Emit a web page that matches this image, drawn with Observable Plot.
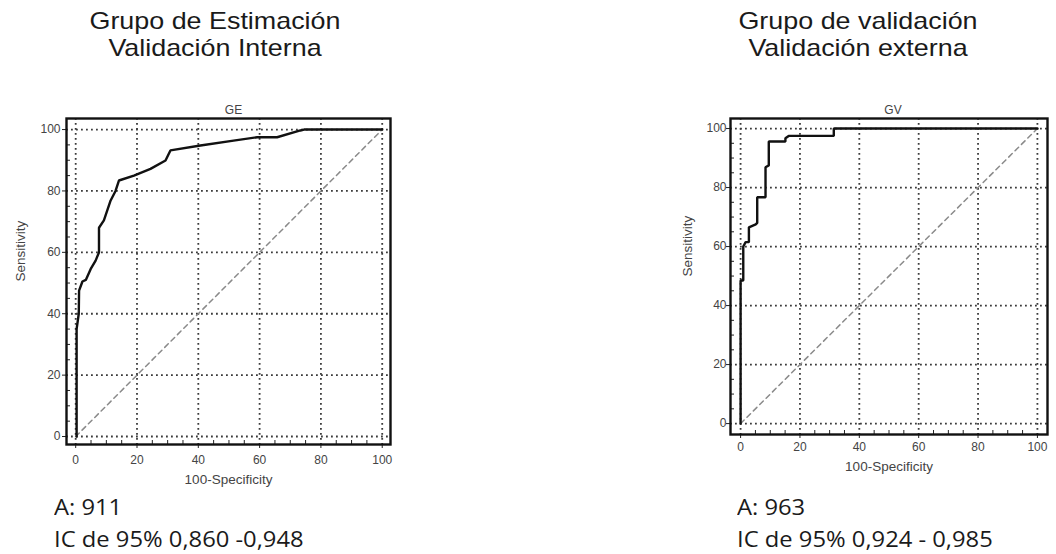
<!DOCTYPE html>
<html>
<head>
<meta charset="utf-8">
<script src="https://cdn.jsdelivr.net/npm/d3@7"></script>
<script src="https://cdn.jsdelivr.net/npm/@observablehq/plot@0.6"></script>
<style>
  html, body { margin: 0; padding: 0; background: #fff; }
  #page { position: relative; width: 1056px; height: 554px; overflow: hidden; background: #fff; }
  .title { position: absolute; font-family: "Liberation Sans", Arial, sans-serif; font-size: 24px; color: #1a1a1a; text-align: center; line-height: 27px; width: 360px; transform: scaleX(1.12); transform-origin: center; }
  .cap { position: absolute; font-family: "Open Sans", "Noto Sans", sans-serif; font-size: 22px; color: #1a1a1a; line-height: 32px; white-space: nowrap; transform: scaleX(1.08); transform-origin: left; }
  .plot { position: absolute; }
</style>
</head>
<body>
<div id="page">
  <div class="title" style="left:35px; top:7px;">Grupo de Estimación<br>Validación Interna</div>
  <div class="title" style="left:678px; top:7px;">Grupo de validación<br>Validación externa</div>
  <div class="plot" id="left" style="left:0px; top:95px;"></div>
  <div class="plot" id="right" style="left:660px; top:95px;"></div>
  <div class="cap" style="left:54px; top:490px;">A: 911<br>IC de 95% 0,860 -0,948</div>
  <div class="cap" style="left:737px; top:490px;">A: 963<br>IC de 95% 0,924 - 0,985</div>
</div>
<script>
// Panel titles
const panelNames = ["GE", "GV"];
// Axis titles
const xTitle = "100-Specificity";
const yTitle = "Sensitivity";
// Axis ticks
const majorTicks = [0, 20, 40, 60, 80, 100];
const minorTicks = [5, 10, 15, 25, 30, 35, 45, 50, 55, 65, 70, 75, 85, 90, 95];
// Reference diagonal
const diagX = [0, 100];
const diagY = [0, 100];
// GE ROC curve (100-Specificity, Sensitivity)
const geFpr = [0.3, 0.3, 1.0, 1.1, 2.2, 3.3, 4.9, 6.5, 7.6, 7.6, 9.2, 11.4, 13.0, 14.1, 19.0, 24.4, 29.3, 30.9, 40.7, 51.5, 59.2, 65.7, 73.3, 74.5, 100];
const geTpr = [0, 35, 40, 47.5, 50.5, 51, 54.6, 57.3, 60, 68, 70.4, 76.9, 80, 83.4, 85, 87.2, 89.9, 93.2, 94.8, 96.4, 97.5, 97.5, 99.7, 100, 100];
// GV ROC curve
const gvFpr = [0, 0, 0.9, 0.9, 1.7, 2.8, 2.8, 5.1, 5.6, 5.6, 8.4, 8.4, 9.5, 9.5, 15.1, 15.1, 16.2, 31.4, 31.4, 100];
const gvTpr = [0, 48.5, 48.5, 60, 61.5, 61.5, 66.5, 67.5, 68, 76.7, 76.7, 86.9, 87.5, 95.6, 95.6, 96.7, 97.5, 97.5, 100, 100];

function rocPlot(cfg) {
  const pts = cfg.fpr.map((x, i) => ({x, y: cfg.tpr[i]}));
  const diag = diagX.map((x, i) => ({x, y: diagY[i]}));
  const tickFont = {fill: "#444", fontSize: 12};
  const gridStyle = {stroke: "#3a3a3a", strokeOpacity: 1, strokeWidth: 1.8, strokeDasharray: "1.8,3.2"};
  return Plot.plot({
    width: cfg.width, height: 400,
    marginLeft: cfg.ml, marginRight: cfg.mr, marginTop: 23, marginBottom: cfg.mb,
    style: {fontFamily: "Liberation Sans, Arial, sans-serif", fontSize: "12px", color: "#444", background: "transparent", overflow: "visible"},
    x: {domain: cfg.xd},
    y: {domain: cfg.yd},
    marks: [
      Plot.gridX(majorTicks, gridStyle),
      Plot.gridY(majorTicks, gridStyle),
      Plot.line(diag, {x: "x", y: "y", stroke: "#8a8a8a", strokeWidth: 1.5, strokeDasharray: "5,4"}),
      Plot.line(pts, {x: "x", y: "y", stroke: "#111", strokeWidth: 2.4, strokeLinejoin: "miter"}),
      Plot.axisX(minorTicks, {tickSize: -4, text: null, stroke: "#222", label: null}),
      Plot.axisY(minorTicks, {tickSize: -4, text: null, stroke: "#222", label: null}),
      Plot.axisX(majorTicks, {tickSize: 4, tickPadding: cfg.xpad, stroke: "#222", ...tickFont, label: null}),
      Plot.axisY(majorTicks, {tickSize: 4, tickPadding: cfg.ypad, stroke: "#222", ...tickFont, label: null}),
      Plot.frame({stroke: "#111", strokeWidth: 2.4}),
      Plot.text([xTitle], {text: d => d, frameAnchor: "bottom", dy: cfg.xlo, fill: "#444", fontSize: 13.5}),
      Plot.text([yTitle], {text: d => d, frameAnchor: "left", dx: -cfg.ylo, rotate: -90, fill: "#444", fontSize: 13.5}),
      Plot.text([cfg.name], {text: d => d, frameAnchor: "top", dy: -13, dx: cfg.tdx, fill: "#444", fontSize: 12})
    ]
  });
}

document.getElementById("left").append(rocPlot({
  name: panelNames[0], fpr: geFpr, tpr: geTpr, width: 400,
  ml: 66, mr: 10, mb: 51, xd: [-3, 102.7], yd: [-2.6, 103.6],
  xpad: 7, ypad: 2, xlo: 39, ylo: 46, tdx: 5
}));
document.getElementById("right").append(rocPlot({
  name: panelNames[1], fpr: gvFpr, tpr: gvTpr, width: 396,
  ml: 70, mr: 9, mb: 61, xd: [-3.4, 103.4], yd: [-3.7, 103.4],
  xpad: 4, ypad: 0, xlo: 36, ylo: 43, tdx: 4
}));
</script>
</body>
</html>
